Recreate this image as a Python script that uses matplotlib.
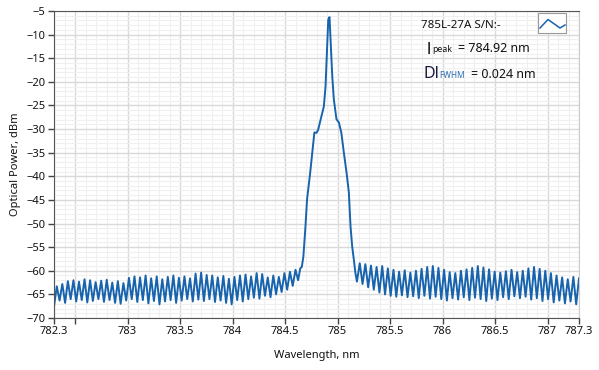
#!/usr/bin/env python3

import numpy as np
import matplotlib.pyplot as plt
from matplotlib.ticker import MultipleLocator
from matplotlib.patches import Rectangle
from matplotlib.lines import Line2D

plt.rcParams['font.family'] = ['Noto Sans', 'DejaVu Sans']

# Left noise floor (782.3 - 784.6 nm): trough / peak readings, dBm
left_troughs = [-67.6, -66.3, -66.8, -66.0, -66.5, -66.2, -66.7, -66.4, -66.0, -66.6,
                -66.2, -66.8, -67.0, -66.3, -66.0, -66.6, -66.2, -66.9, -66.4, -67.1,
                -66.5, -66.2, -66.8, -66.3, -66.0, -66.5, -66.1, -66.4, -66.0, -66.6,
                -66.3, -66.8, -67.1, -66.2, -66.5, -66.0, -65.7, -65.9, -65.3, -65.6,
                -65.0, -64.5, -64.0, -63.2]
left_peaks = [-63.3, -62.8, -62.2, -62.0, -62.3, -61.8, -62.0, -62.4, -62.1, -61.9,
              -62.5, -62.2, -62.6, -61.5, -61.2, -61.4, -61.0, -61.6, -61.2, -61.8,
              -61.3, -61.0, -61.5, -61.2, -61.6, -60.6, -60.4, -60.9, -61.0, -61.4,
              -61.1, -61.7, -61.3, -61.0, -60.8, -61.2, -60.5, -60.7, -61.4, -61.0,
              -61.3, -60.5, -60.2, -59.8]

# Laser line
peak_wl = [784.625, 784.645, 784.66, 784.675, 784.695, 784.71, 784.74, 784.76, 784.78,
           784.80, 784.815, 784.84, 784.87, 784.886, 784.90, 784.912, 784.924, 784.934,
           784.95, 784.965, 784.99, 785.013, 785.036, 785.06, 785.086, 785.108, 785.124,
           785.14, 785.156, 785.17]
peak_db = [-62.0, -59.5, -59.2, -57.0, -50.6, -44.9, -39.2, -34.9, -30.7,
           -30.8, -30.2, -27.9, -25.2, -21.0, -13.1, -6.8, -6.3, -11.0,
           -18.8, -23.7, -27.9, -28.6, -30.7, -34.9, -39.2, -43.4, -50.6,
           -54.9, -57.7, -60.4]

# Right noise floor (785.185 - 787.3 nm)
right_troughs = [-62.3, -62.8, -63.5, -64.0, -64.6, -65.0, -65.3, -65.5, -65.2, -65.6,
                 -65.4, -65.8, -65.3, -65.9, -65.5, -66.0, -66.3, -65.8, -66.1, -65.6,
                 -66.2, -65.7, -66.0, -66.4, -65.9, -66.2, -65.6, -66.0, -65.4, -65.8,
                 -65.5, -66.1, -65.8, -66.4, -66.0, -66.7, -66.3, -66.9, -66.5, -67.1]
right_peaks = [-58.4, -58.6, -58.9, -59.2, -59.0, -59.5, -59.8, -60.2, -59.9, -60.4,
               -60.0, -59.6, -59.2, -59.0, -59.4, -59.8, -60.3, -60.5, -60.0, -59.7,
               -59.4, -59.0, -59.3, -59.7, -60.2, -60.4, -60.1, -59.8, -60.3, -60.0,
               -59.5, -59.2, -59.6, -60.0, -60.5, -61.0, -61.4, -61.8, -61.3, -61.6]

xticks = [782.3, 782.5, 783, 783.5, 784, 784.5, 785, 785.5, 786, 786.5, 787, 787.3]
xtick_labels = ['782.3', '', '783', '783.5', '784', '784.5', '785', '785.5',
                '786', '786.5', '787', '787.3']
yticks = list(range(-70, -4, 5))

# assemble the trace
left_db = np.column_stack([left_troughs, left_peaks]).ravel()
left_wl = np.linspace(782.3, 784.6, len(left_db))
right_db = np.column_stack([right_troughs, right_peaks]).ravel()
right_wl = np.linspace(785.185, 787.3, len(right_db))
wl = np.concatenate([left_wl, peak_wl, right_wl])
db = np.concatenate([left_db, peak_db, right_db])

W, H = 599, 370
fig = plt.figure(figsize=(W / 100, H / 100), dpi=100)
ax = fig.add_axes([54 / W, 1 - 318 / H, (579 - 54) / W, (318 - 11) / H])

ax.plot(wl, db, color='#1763ad', linewidth=1.4)

ax.set_xlim(782.3, 787.3)
ax.set_ylim(-70, -5)
ax.set_xticks(xticks)
ax.set_xticklabels(xtick_labels)
ax.set_yticks(yticks)
ax.xaxis.set_minor_locator(MultipleLocator(0.1))
ax.yaxis.set_minor_locator(MultipleLocator(1))
ax.tick_params(which='major', direction='out', length=4, width=1, color='#444444',
               labelsize=8, labelcolor='#111111', pad=2)
ax.tick_params(which='minor', length=0)

ax.grid(True, which='major', color='#d9d9d9', linewidth=1)
ax.grid(True, which='minor', color='#f0f0f0', linewidth=0.8)
ax.set_axisbelow(True)
for s in ['left', 'bottom', 'top']:
    ax.spines[s].set_color('#555555')
ax.spines['right'].set_color('#cccccc')

ax.set_xlabel('Wavelength, nm', fontsize=8, color='#111111', labelpad=9)
ax.set_ylabel('Optical Power, dBm', fontsize=8, color='#111111', labelpad=4)

# legend / annotation block (figure pixel positions, origin top-left)
def px(x, y):
    return x / W, 1 - y / H

fig.text(*px(421, 28), '785L-27A S/N:-', fontsize=8.3, va='baseline', color='#111111')
fig.add_artist(Rectangle(px(538, 33), 28 / W, 20 / H, transform=fig.transFigure,
                         facecolor='white', edgecolor='#999999', linewidth=0.8))
fig.add_artist(Line2D([540 / W, 548 / W, 560 / W, 565 / W],
                      [1 - 28 / H, 1 - 19.5 / H, 1 - 28 / H, 1 - 25 / H],
                      transform=fig.transFigure, color='#1763ad', linewidth=1.1))

fig.text(*px(427, 54), 'l', fontsize=12, va='baseline', color='#111111')
fig.text(*px(432, 52), 'peak', fontsize=6.3, va='baseline', color='#111111')
fig.text(*px(458, 52), '= 784.92 nm', fontsize=9, va='baseline', color='#111111')

fig.text(*px(424, 77.5), 'Dl', fontsize=11.5, va='baseline', color='#1a1a40')
fig.text(*px(439, 77.5), 'FWHM', fontsize=6, va='baseline', color='#2f6fb5')
fig.text(*px(471, 77.5), '= 0.024 nm', fontsize=9, va='baseline', color='#111111')

fig.savefig('out.png', dpi=100)
